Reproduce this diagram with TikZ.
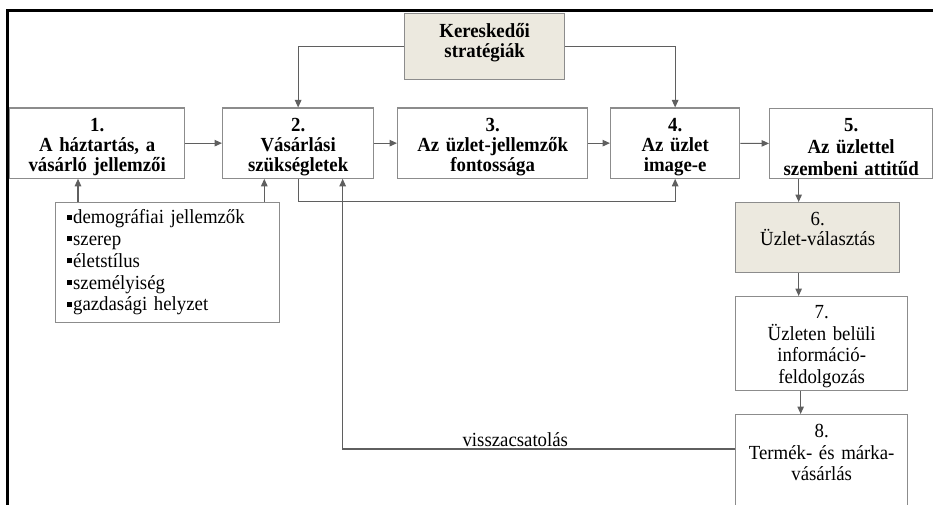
\documentclass[tikz,border=0pt]{standalone}
\usepackage{fontspec}
\setmainfont{Liberation Serif}[FakeStretch=0.94]
\usetikzlibrary{arrows.meta, positioning, calc}

\definecolor{boxgray}{RGB}{140,140,140}
\definecolor{linkgray}{RGB}{95,95,95}
\definecolor{sand}{RGB}{236,233,223}
\newcommand{\sqbullet}{\rule[4pt]{5pt}{5pt}\hspace{1.5pt}}

\begin{document}
\begin{tikzpicture}[
    x=1pt, y=-1pt,
    stage/.style={rectangle, anchor=north west, draw=boxgray, line width=1.3pt, fill=white, inner sep=0pt, align=center, font=\fontsize{20}{20}\selectfont\bfseries},
    choice/.style={stage, fill=sand, font=\fontsize{20}{20}\selectfont},
    plainstage/.style={stage, font=\fontsize{20}{21.5}\selectfont},
    traitlist/.style={stage, align=left, inner xsep=11pt, font=\fontsize{20}{21.8}\selectfont},
    arrow/.style={draw=linkgray, line width=1.1pt, -{Triangle[length=7.5pt,width=6.5pt]}},
]
    \useasboundingbox (0,0) rectangle (933,505);

    % frame
    \draw[line width=2.6pt] (7.5,505) |- (933,10.5);

    % top row
    \node (strat) [stage, fill=sand, text width=160pt, text height=23.5pt, text depth=42.5pt] at (404,13) {Kereskedői\\stratégiák};
    \node (s1) [stage, text width=175pt, text height=23pt, text depth=47pt] at (9,107.5) {1.\\A háztartás, a\\vásárló jellemzői};
    \node (s2) [stage, text width=151pt, text height=23pt, text depth=47pt] at (222,107.5) {2.\\Vásárlási\\szükségletek};
    \node (s3) [stage, text width=190pt, text height=23pt, text depth=47pt] at (397,107.5) {3.\\Az üzlet-jellemzők\\fontossága};
    \node (s4) [stage, text width=129pt, text height=23pt, text depth=47pt] at (610,107.5) {4.\\Az üzlet\\image-e};
    \node (s5) [stage, text width=163pt, text height=22.5pt, text depth=47.5pt, font=\fontsize{20}{22}\selectfont\bfseries] at (769,108) {5.\\Az üzlettel\\szembeni attitűd};

    % traits
    \node (traits) [traitlist, text width=202pt, text height=21pt, text depth=99pt] at (55,202) {\sqbullet demográfiai jellemzők\\\sqbullet szerep\\\sqbullet életstílus\\\sqbullet személyiség\\\sqbullet gazdasági helyzet};

    % right column
    \node (s6) [choice, text width=164pt, text height=23pt, text depth=47pt] at (735,202) {6.\\Üzlet-választás};
    \node (s7) [plainstage, text width=172pt, text height=22pt, text depth=72pt] at (735,296) {7.\\Üzleten belüli\\információ-\\feldolgozás};
    \node (s8) [plainstage, text width=172pt, text height=23pt, text depth=83pt] at (735,414) {8.\\Termék- és márka-\\vásárlás};

    \coordinate (t1) at ([xshift=23pt]traits.north west);
    \coordinate (t2) at ([xshift=-16pt]traits.north east);
    \coordinate (c6) at ([xshift=-19pt]s6.north);

    \draw[arrow] (strat.west) -| (s2.north);
    \draw[arrow] (strat.east) -| (s4.north);
    \draw[arrow] (s1) -- (s2);
    \draw[arrow] (s2) -- (s3);
    \draw[arrow] (s3) -- (s4);
    \draw[arrow] (s4) -- (s5);
    \draw[arrow] (t1) -- (t1 |- s1.south);
    \draw[arrow] (t2) -- (t2 |- s2.south);
    \draw[arrow] (s2.south) -- ++(0,23) -| (s4.south);
    \draw[arrow] (s5.south -| c6) -- (c6);
    \draw[arrow] (s6.south -| c6) -- (s7.north -| c6);
    \draw[arrow] ([xshift=-21pt]s7.south) -- ([xshift=-21pt]s8.north);
    \draw[arrow] ([yshift=-35pt]s8.north west) -| ([xshift=44.5pt]s2.south)
        node[pos=0.28, above, inner sep=2pt, font=\fontsize{20}{20}\selectfont] {visszacsatolás};

\end{tikzpicture}
\end{document}
